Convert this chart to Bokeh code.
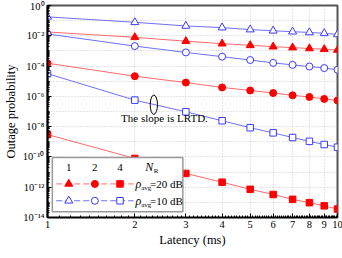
import numpy as np
from bokeh.plotting import figure
from bokeh.models import FixedTicker, Range1d, LinearScale
from bokeh.core.properties import value
from bokeh.embed import file_html
from bokeh.resources import INLINE

# ---------------- data ----------------
latency_ms = [1, 2, 3, 4, 5, 6, 7, 8, 9, 10]

# rho_avg = 20 dB (red, filled markers)
p_nr1_20db = [1.78e-2, 7.94e-3, 4.37e-3, 3.02e-3, 2.34e-3, 1.91e-3, 1.66e-3, 1.45e-3, 1.29e-3, 1.15e-3]
p_nr2_20db = [1.55e-4, 2.14e-5, 8.13e-6, 3.89e-6, 2.45e-6, 1.66e-6, 1.17e-6, 9.12e-7, 6.76e-7, 5.37e-7]
p_nr4_20db = [3.02e-9, 7.94e-11, 8.13e-12, 2.14e-12, 7.24e-13, 3.31e-13, 1.58e-13, 9.55e-14, 5.89e-14, 3.63e-14]

# rho_avg = 10 dB (blue, open markers)
p_nr1_10db = [1.78e-1, 7.76e-2, 4.47e-2, 3.47e-2, 2.57e-2, 2.14e-2, 1.86e-2, 1.66e-2, 1.45e-2, 1.23e-2]
p_nr2_10db = [1.32e-2, 2.09e-3, 7.94e-4, 4.17e-4, 2.51e-4, 1.62e-4, 1.20e-4, 9.33e-5, 7.41e-5, 5.75e-5]
p_nr4_10db = [3.16e-5, 5.62e-7, 9.55e-8, 2.45e-8, 8.51e-9, 3.89e-9, 1.91e-9, 1.07e-9, 6.61e-10, 4.37e-10]

nr_labels = ["1", "2", "4"]
rho_labels = ["=20 dB", "=10 dB"]

x_ticks = [1, 2, 3, 4, 5, 6, 7, 8, 9, 10]
x_tick_labels = ["1", "2", "3", "4", "5", "6", "7", "8", "9", "10"]
y_tick_exponents = [0, -2, -4, -6, -8, -10, -12, -14]

annotation_text = "The slope is LRTD."

# ---------------- styles ----------------
FONT = "Liberation Serif"
RED_M, RED_L = "#ff0000", "#ff6a6a"
BLUE_M, BLUE_L = "#3a3aff", "#6f6fff"

sup = str.maketrans("-0123456789", "⁻⁰¹²³⁴⁵⁶⁷⁸⁹")
y_tick_labels = ["10" + str(e).translate(sup) for e in y_tick_exponents]

p = figure(frame_width=290, frame_height=212, x_axis_type="log", y_axis_type="log",
           x_range=Range1d(1, 10), y_range=Range1d(1e-14, 1),
           output_backend="svg", toolbar_location=None,
           min_border_left=0, min_border_right=6, min_border_top=5, min_border_bottom=0,
           x_axis_label="Latency (ms)", y_axis_label="Outage probability")
p.background_fill_color = "white"
p.border_fill_color = "white"
p.outline_line_color = "#555555"
p.outline_line_width = 2

# pixel-space helper range (reference-image pixel frame) for annotations/legend
p.extra_x_ranges = {"px": Range1d(36, 336)}
p.extra_x_scales = {"px": LinearScale()}
p.extra_y_ranges = {"px": Range1d(229, 10)}
p.extra_y_scales = {"px": LinearScale()}

# axes
xa, ya = p.xaxis[0], p.yaxis[0]
xa.ticker = FixedTicker(ticks=x_ticks,
                        minor_ticks=[round(1 + 0.1 * i, 1) for i in range(1, 90) if abs((1 + 0.1 * i) - round(1 + 0.1 * i)) > 1e-6])
xa.major_label_overrides = {float(t): l for t, l in zip(x_ticks, x_tick_labels)}
major_y = [10.0 ** e for e in y_tick_exponents]
minor_y = [m * 10.0 ** k for k in range(-14, 0) for m in range(1, 10) if not (m == 1 and k % 2 == 0)]
ya.ticker = FixedTicker(ticks=major_y, minor_ticks=minor_y)
ya.major_label_overrides = {v: l for v, l in zip(major_y, y_tick_labels)}

for ax in (xa, ya):
    ax.axis_line_color = "black"
    ax.major_tick_line_color = "black"
    ax.minor_tick_line_color = "black"
    ax.major_tick_in = 4
    ax.major_tick_out = 0
    ax.minor_tick_in = 2
    ax.minor_tick_out = 0
    ax.major_label_text_font = FONT
    ax.major_label_text_font_size = "10.5px"
    ax.major_label_text_color = "black"
    ax.axis_label_text_font = FONT
    ax.axis_label_text_font_size = "12.5px"
    ax.axis_label_text_font_style = "normal"
    ax.axis_label_text_color = "black"
    ax.major_label_standoff = 3
    ax.axis_label_standoff = 2
ya.axis_line_width = 2
xa.axis_line_width = 1.5

# grids
p.xgrid.ticker = FixedTicker(ticks=x_ticks)
p.ygrid.ticker = FixedTicker(ticks=[10.0 ** (-k) for k in range(0, 15)])
for g in (p.xgrid[0], p.ygrid[0]):
    g.grid_line_color = "#c8c8c8"
    g.grid_line_dash = "1 2"
    g.grid_line_width = 1

# data series
series = [
    (p_nr1_20db, "triangle", RED_M, RED_L, RED_M, 8),
    (p_nr2_20db, "circle", RED_M, RED_L, RED_M, 7),
    (p_nr4_20db, "square", RED_M, RED_L, RED_M, 6.5),
    (p_nr1_10db, "triangle", BLUE_M, BLUE_L, "white", 8),
    (p_nr2_10db, "circle", BLUE_M, BLUE_L, "white", 7),
    (p_nr4_10db, "square", BLUE_M, BLUE_L, "white", 6.5),
]
for vals, mk, mc, lc, fc, sz in series:
    p.line(latency_ms, vals, line_color=lc, line_width=1)
for vals, mk, mc, lc, fc, sz in series:
    p.scatter(latency_ms, vals, marker=mk, size=sz, line_color=mc, fill_color=fc, line_width=1)

# annotation: ellipse + text
p.ellipse(x=[146], y=[112.5], width=7.5, height=20, fill_color=None, line_color="black",
          line_width=1, x_range_name="px", y_range_name="px")
p.text(x=[157], y=[126], text=[annotation_text], text_font=value(FONT), text_font_size="11px",
       text_align="center", text_baseline="middle", text_color="black",
       x_range_name="px", y_range_name="px")

# legend (custom matrix legend)
p.quad(left=[41], right=[176], top=[167], bottom=[223], fill_color="white",
       line_color="#9a9a9a", line_width=1.5, x_range_name="px", y_range_name="px")
col_x = [58, 85, 111]
row_y = [194.3, 211.7]
p.text(x=col_x, y=[177] * 3, text=nr_labels, text_font=value(FONT), text_font_size="11px",
       text_align="center", text_baseline="middle", text_color="black",
       x_range_name="px", y_range_name="px")
p.text(x=[137], y=[177], text=["N"], text_font=value(FONT), text_font_size="12px",
       text_font_style="italic", text_align="left", text_baseline="middle",
       text_color="black", x_range_name="px", y_range_name="px")
p.text(x=[146], y=[181], text=["R"], text_font=value(FONT), text_font_size="7px",
       text_align="left", text_baseline="middle", text_color="black",
       x_range_name="px", y_range_name="px")
legend_rows = [
    (["triangle", "circle", "square"], RED_M, RED_L, RED_M),
    (["triangle", "circle", "square"], BLUE_M, BLUE_L, "white"),
]
sizes = [8, 7, 6.5]
for (mks, mc, lc, fc), ry, rl in zip(legend_rows, row_y, rho_labels):
    p.line([45, 125], [ry, ry], line_color=lc, line_width=1, line_dash="6 3",
           x_range_name="px", y_range_name="px")
    for cx, mk, sz in zip(col_x, mks, sizes):
        p.scatter([cx], [ry], marker=mk, size=sz, line_color=mc, fill_color=fc,
                  x_range_name="px", y_range_name="px")
    p.text(x=[127], y=[ry], text=["ρ"], text_font=value(FONT), text_font_size="12px",
           text_font_style="italic", text_align="left", text_baseline="middle",
           text_color="black", x_range_name="px", y_range_name="px")
    p.text(x=[133], y=[ry + 4.5], text=["avg"], text_font=value(FONT), text_font_size="7px",
           text_align="left", text_baseline="middle", text_color="black",
           x_range_name="px", y_range_name="px")
    p.text(x=[142], y=[ry], text=[rl], text_font=value(FONT), text_font_size="11px",
           text_align="left", text_baseline="middle", text_color="black",
           x_range_name="px", y_range_name="px")

open("out.html", "w").write(file_html(p, INLINE))
